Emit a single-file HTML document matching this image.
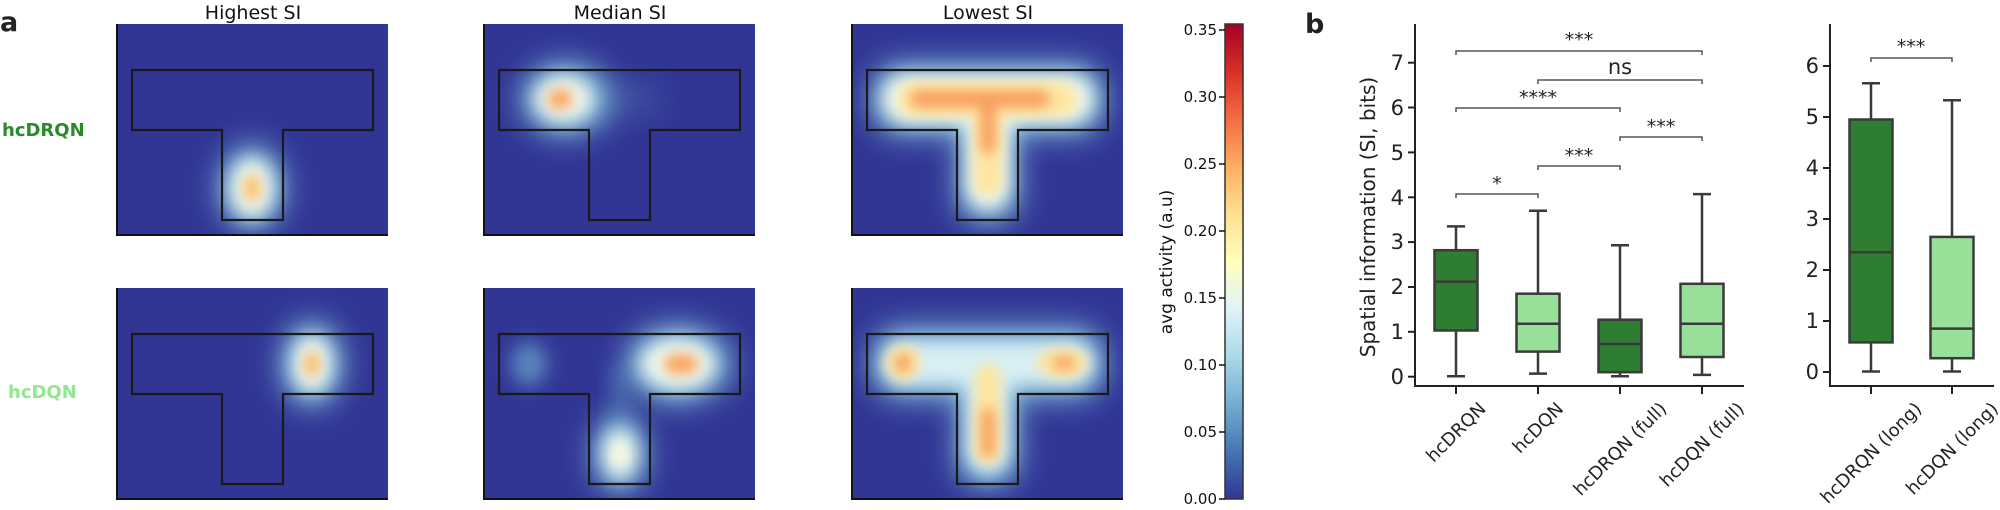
<!DOCTYPE html>
<html><head><meta charset="utf-8"><style>
html,body{margin:0;padding:0;background:#fff;}
svg{display:block;font-family:"DejaVu Sans","Liberation Sans",sans-serif;}
</style></head><body>
<svg id="s" width="2000" height="510" viewBox="0 0 2000 510" xmlns="http://www.w3.org/2000/svg">
<defs>
<filter id="b1" x="-50%" y="-50%" width="200%" height="200%"><feGaussianBlur stdDeviation="14"/></filter>
<filter id="b2" x="-50%" y="-50%" width="200%" height="200%"><feGaussianBlur stdDeviation="9"/></filter>
<filter id="b3" x="-50%" y="-50%" width="200%" height="200%"><feGaussianBlur stdDeviation="6"/></filter>
<clipPath id="hc"><rect x="0" y="0" width="271" height="211"/></clipPath>
<linearGradient id="cb" x1="0" y1="1" x2="0" y2="0">
<stop offset="0" stop-color="#313695"/><stop offset="0.1" stop-color="#4575b4"/><stop offset="0.2" stop-color="#74add1"/><stop offset="0.3" stop-color="#abd9e9"/><stop offset="0.4" stop-color="#e0f3f8"/><stop offset="0.5" stop-color="#ffffbf"/><stop offset="0.6" stop-color="#fee090"/><stop offset="0.7" stop-color="#fdae61"/><stop offset="0.8" stop-color="#f46d43"/><stop offset="0.9" stop-color="#d73027"/><stop offset="1" stop-color="#a50026"/>
</linearGradient>
<g id="tshape"><path d="M15,46 H256 V106 H166 V196 H105 V106 H15 Z" fill="none" stroke="#1a1a1a" stroke-width="2.2"/></g>
</defs>

<text x="0" y="31" font-size="27" font-weight="bold" fill="#222">a</text>
<text x="2" y="136" font-size="18" font-weight="bold" fill="#2a8a2a">hcDRQN</text>
<text x="8" y="398" font-size="18" font-weight="bold" fill="#90e890">hcDQN</text>
<text x="253" y="19" font-size="19" text-anchor="middle" fill="#111">Highest SI</text>
<text x="620" y="19" font-size="19" text-anchor="middle" fill="#111">Median SI</text>
<text x="988" y="19" font-size="19" text-anchor="middle" fill="#111">Lowest SI</text>

<g transform="translate(117,24)">
<g clip-path="url(#hc)"><rect width="271" height="211" fill="#313695"/>
<ellipse cx="135" cy="164" rx="34" ry="44" fill="#74add1" filter="url(#b1)"/>
<ellipse cx="135" cy="164" rx="22" ry="30" fill="#f0f9f0" filter="url(#b2)"/>
<ellipse cx="135" cy="164" rx="9" ry="14" fill="#fdc070" filter="url(#b3)"/></g>
<use href="#tshape"/><path d="M0,0 V211 H271" fill="none" stroke="#111" stroke-width="2"/></g>
<g transform="translate(484,24)">
<g clip-path="url(#hc)"><rect width="271" height="211" fill="#313695"/>
<ellipse cx="140" cy="75" rx="40" ry="18" fill="#3d4f9f" filter="url(#b1)"/>
<ellipse cx="82" cy="75" rx="46" ry="38" fill="#74add1" filter="url(#b1)"/>
<ellipse cx="80" cy="75" rx="30" ry="24" fill="#f0f9f0" filter="url(#b2)"/>
<ellipse cx="76" cy="75" rx="13" ry="11" fill="#fdaa68" filter="url(#b3)"/></g>
<use href="#tshape"/><path d="M0,0 V211 H271" fill="none" stroke="#111" stroke-width="2"/></g>
<g transform="translate(852,24)">
<g clip-path="url(#hc)"><rect width="271" height="211" fill="#313695"/>
<g filter="url(#b1)" fill="#74add1"><rect x="18" y="38" width="236" height="74" rx="32"/><rect x="104" y="70" width="64" height="130" rx="28"/></g>
<g filter="url(#b2)" fill="#f0f9f0"><rect x="30" y="50" width="212" height="50" rx="24"/><rect x="114" y="70" width="44" height="116" rx="22"/></g>
<g filter="url(#b3)" fill="#fee6a0"><rect x="45" y="58" width="180" height="34" rx="16"/><rect x="122" y="70" width="28" height="102" rx="14"/></g>
<g filter="url(#b3)" fill="#f8a060"><rect x="58" y="66" width="140" height="18" rx="9"/><rect x="128" y="70" width="16" height="60" rx="8"/></g></g>
<use href="#tshape"/><path d="M0,0 V211 H271" fill="none" stroke="#111" stroke-width="2"/></g>

<g transform="translate(117,288)">
<g clip-path="url(#hc)"><rect width="271" height="211" fill="#313695"/>
<ellipse cx="195" cy="76" rx="32" ry="44" fill="#74add1" filter="url(#b1)"/>
<ellipse cx="195" cy="76" rx="20" ry="29" fill="#f0f9f0" filter="url(#b2)"/>
<ellipse cx="195" cy="76" rx="8" ry="13" fill="#fdb86a" filter="url(#b3)"/></g>
<use href="#tshape"/><path d="M0,0 V211 H271" fill="none" stroke="#111" stroke-width="2"/></g>
<g transform="translate(484,288)">
<g clip-path="url(#hc)"><rect width="271" height="211" fill="#313695"/>
<ellipse cx="45" cy="76" rx="18" ry="22" fill="#5a86bd" filter="url(#b2)"/>
<rect x="125" y="80" width="22" height="80" fill="#3f5aa6" filter="url(#b2)"/>
<ellipse cx="194" cy="76" rx="54" ry="40" fill="#74add1" filter="url(#b1)"/>
<ellipse cx="194" cy="76" rx="38" ry="26" fill="#f0f9f0" filter="url(#b2)"/>
<ellipse cx="197" cy="76" rx="18" ry="11" fill="#fba863" filter="url(#b3)"/>
<ellipse cx="136" cy="166" rx="28" ry="40" fill="#74add1" filter="url(#b1)"/>
<ellipse cx="136" cy="166" rx="17" ry="25" fill="#f0f9f0" filter="url(#b2)"/>
<ellipse cx="136" cy="166" rx="6" ry="9" fill="#fafad0" filter="url(#b3)"/></g>
<use href="#tshape"/><path d="M0,0 V211 H271" fill="none" stroke="#111" stroke-width="2"/></g>
<g transform="translate(852,288)">
<g clip-path="url(#hc)"><rect width="271" height="211" fill="#313695"/>
<g filter="url(#b1)" fill="#74add1"><rect x="18" y="38" width="236" height="74" rx="32"/><rect x="104" y="70" width="64" height="130" rx="28"/></g>
<g filter="url(#b2)" fill="#d8eff4"><rect x="30" y="52" width="212" height="46" rx="22"/><rect x="114" y="70" width="44" height="116" rx="22"/></g>
<g filter="url(#b3)" fill="#fee6a0"><ellipse cx="51" cy="75" rx="17" ry="17"/><ellipse cx="210" cy="75" rx="26" ry="15"/><rect x="123" y="76" width="26" height="100" rx="13"/></g>
<g filter="url(#b3)" fill="#f8a060"><ellipse cx="51" cy="75" rx="8" ry="10"/><ellipse cx="212" cy="75" rx="12" ry="7"/><rect x="129" y="120" width="14" height="50" rx="7"/></g></g>
<use href="#tshape"/><path d="M0,0 V211 H271" fill="none" stroke="#111" stroke-width="2"/></g>

<rect x="1225" y="24" width="18" height="475" fill="url(#cb)" stroke="#333" stroke-width="1.5"/>
<g stroke="#111" stroke-width="1.5"><line x1="1219" y1="30" x2="1225" y2="30"/><line x1="1219" y1="97" x2="1225" y2="97"/><line x1="1219" y1="164" x2="1225" y2="164"/><line x1="1219" y1="231" x2="1225" y2="231"/><line x1="1219" y1="298" x2="1225" y2="298"/><line x1="1219" y1="365" x2="1225" y2="365"/><line x1="1219" y1="432" x2="1225" y2="432"/><line x1="1219" y1="499" x2="1225" y2="499"/></g>
<g font-size="15" fill="#111" text-anchor="end">
<text x="1217" y="35">0.35</text><text x="1217" y="102">0.30</text><text x="1217" y="169">0.25</text><text x="1217" y="236">0.20</text><text x="1217" y="303">0.15</text><text x="1217" y="370">0.10</text><text x="1217" y="437">0.05</text><text x="1217" y="504">0.00</text>
</g>
<text transform="translate(1172,262) rotate(-90)" font-size="17" text-anchor="middle" fill="#111">avg activity (a.u)</text>

<text x="1305" y="33" font-size="27" font-weight="bold" fill="#222">b</text>
<text transform="translate(1375,217) rotate(-90)" font-size="20" text-anchor="middle" fill="#222">Spatial information (SI, bits)</text>

<g stroke="#222" stroke-width="2" fill="none">
<path d="M1415,24 V386 H1744"/>
<path d="M1830,24 V386 H1994"/>
</g>
<g stroke="#222" stroke-width="2">
<line x1="1408" y1="376.7" x2="1415" y2="376.7"/><line x1="1408" y1="331.8" x2="1415" y2="331.8"/><line x1="1408" y1="287" x2="1415" y2="287"/><line x1="1408" y1="242.1" x2="1415" y2="242.1"/><line x1="1408" y1="197.3" x2="1415" y2="197.3"/><line x1="1408" y1="152.4" x2="1415" y2="152.4"/><line x1="1408" y1="107.5" x2="1415" y2="107.5"/><line x1="1408" y1="62.7" x2="1415" y2="62.7"/>
<line x1="1456" y1="386" x2="1456" y2="394"/><line x1="1538" y1="386" x2="1538" y2="394"/><line x1="1620" y1="386" x2="1620" y2="394"/><line x1="1702" y1="386" x2="1702" y2="394"/>
<line x1="1823" y1="372" x2="1830" y2="372"/><line x1="1823" y1="321" x2="1830" y2="321"/><line x1="1823" y1="270" x2="1830" y2="270"/><line x1="1823" y1="219" x2="1830" y2="219"/><line x1="1823" y1="168" x2="1830" y2="168"/><line x1="1823" y1="117" x2="1830" y2="117"/><line x1="1823" y1="66" x2="1830" y2="66"/>
<line x1="1871" y1="386" x2="1871" y2="394"/><line x1="1952" y1="386" x2="1952" y2="394"/>
</g>
<g font-size="21" fill="#222" text-anchor="end">
<text x="1404" y="384">0</text><text x="1404" y="339">1</text><text x="1404" y="294">2</text><text x="1404" y="249">3</text><text x="1404" y="205">4</text><text x="1404" y="160">5</text><text x="1404" y="115">6</text><text x="1404" y="70">7</text>
<text x="1819" y="379">0</text><text x="1819" y="328">1</text><text x="1819" y="277">2</text><text x="1819" y="226">3</text><text x="1819" y="175">4</text><text x="1819" y="124">5</text><text x="1819" y="73">6</text>
</g>

<g stroke="#3a3a3a" stroke-width="2.5">
<line x1="1456" y1="376.2" x2="1456" y2="330.5"/><line x1="1456" y1="250.2" x2="1456" y2="226.4"/><line x1="1447" y1="376.2" x2="1465" y2="376.2"/><line x1="1447" y1="226.4" x2="1465" y2="226.4"/>
<rect x="1434.5" y="250.2" width="43" height="80.3" fill="#2e7d32"/><line x1="1434.5" y1="281.6" x2="1477.5" y2="281.6"/>
<line x1="1538" y1="373.6" x2="1538" y2="351.6"/><line x1="1538" y1="293.7" x2="1538" y2="210.7"/><line x1="1529" y1="373.6" x2="1547" y2="373.6"/><line x1="1529" y1="210.7" x2="1547" y2="210.7"/>
<rect x="1516.5" y="293.7" width="43" height="57.9" fill="#98e09a"/><line x1="1516.5" y1="323.8" x2="1559.5" y2="323.8"/>
<line x1="1620" y1="376.2" x2="1620" y2="372.2"/><line x1="1620" y1="319.7" x2="1620" y2="245.3"/><line x1="1611" y1="376.2" x2="1629" y2="376.2"/><line x1="1611" y1="245.3" x2="1629" y2="245.3"/>
<rect x="1598.5" y="319.7" width="43" height="52.5" fill="#2e7d32"/><line x1="1598.5" y1="344" x2="1641.5" y2="344"/>
<line x1="1702" y1="374.9" x2="1702" y2="357"/><line x1="1702" y1="283.8" x2="1702" y2="194.1"/><line x1="1693" y1="374.9" x2="1711" y2="374.9"/><line x1="1693" y1="194.1" x2="1711" y2="194.1"/>
<rect x="1680.5" y="283.8" width="43" height="73.2" fill="#98e09a"/><line x1="1680.5" y1="323.8" x2="1723.5" y2="323.8"/>
<line x1="1871" y1="371.5" x2="1871" y2="342.4"/><line x1="1871" y1="119.5" x2="1871" y2="83.3"/><line x1="1862" y1="371.5" x2="1880" y2="371.5"/><line x1="1862" y1="83.3" x2="1880" y2="83.3"/>
<rect x="1849.5" y="119.5" width="43" height="222.9" fill="#2e7d32"/><line x1="1849.5" y1="252.2" x2="1892.5" y2="252.2"/>
<line x1="1952" y1="371.5" x2="1952" y2="358.2"/><line x1="1952" y1="236.9" x2="1952" y2="100.2"/><line x1="1943" y1="371.5" x2="1961" y2="371.5"/><line x1="1943" y1="100.2" x2="1961" y2="100.2"/>
<rect x="1930.5" y="236.9" width="43" height="121.3" fill="#98e09a"/><line x1="1930.5" y1="328.6" x2="1973.5" y2="328.6"/>
</g>

<g stroke="#555" stroke-width="1.5" fill="none">
<path d="M1456,55 V51 H1702 V55"/>
<path d="M1538,84 V80 H1702 V84"/>
<path d="M1456,112 V108 H1620 V112"/>
<path d="M1620,141 V137 H1702 V141"/>
<path d="M1538,170 V166 H1620 V170"/>
<path d="M1456,198 V194 H1538 V198"/>
<path d="M1871,62 V58 H1952 V62"/>
</g>
<g font-size="19" fill="#222" text-anchor="middle">
<text x="1579" y="46">***</text>
<text x="1620" y="74" font-size="21">ns</text>
<text x="1538" y="104">****</text>
<text x="1661" y="133">***</text>
<text x="1579" y="162">***</text>
<text x="1497" y="190">*</text>
<text x="1911" y="53">***</text>
</g>

<g id="xl" font-size="18" fill="#222" text-anchor="middle">
<text data-x="1456">hcDRQN</text>
<text data-x="1538">hcDQN</text>
<text data-x="1620">hcDRQN (full)</text>
<text data-x="1702">hcDQN (full)</text>
<text data-x="1871">hcDRQN (long)</text>
<text data-x="1952">hcDQN (long)</text>
</g>
</svg>
<script>
(function(){
var ts=document.querySelectorAll('#xl text');
var est={"hcDRQN":70,"hcDQN":56,"hcDRQN (full)":126,"hcDQN (full)":112,"hcDRQN (long)":132,"hcDQN (long)":118};
for(var i=0;i<ts.length;i++){
 var t=ts[i],x=+t.getAttribute('data-x'),w;
 try{w=t.getComputedTextLength();}catch(e){w=0;}
 if(!w)w=est[t.textContent]||80;
 var h=13;
 var cy=401+(w+h)*0.7071/2;
 t.setAttribute('x',0);t.setAttribute('y',6);
 t.setAttribute('transform','translate('+x+','+cy+') rotate(-45)');
}
})();
</script>
</body></html>
